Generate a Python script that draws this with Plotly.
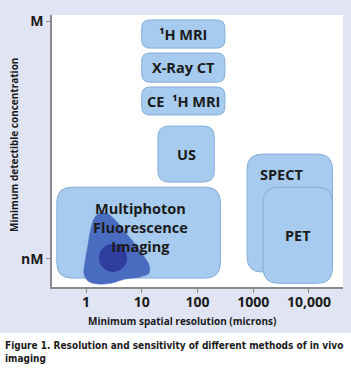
import numpy as np
import plotly.graph_objects as go

# ---------------- data ----------------
methods = ["¹H MRI", "X-Ray CT", "CE  ¹H MRI", "US",
           "Multiphoton<br>Fluorescence<br>Imaging", "SPECT", "PET"]
res_min_um = [10, 10, 10, 19.5, 0.30, 776, 1510]          # microns
res_max_um = [310, 310, 310, 200, 257, 26300, 26300]
conc_max_M = [1.1, 0.062, 0.0032, 1.07e-4, 5.2e-7, 9.3e-6, 5.2e-7]
conc_min_M = [0.095, 0.0049, 2.8e-4, 8.1e-7, 1.9e-10, 3.2e-10, 1.2e-10]
label_res_um = [None, None, None, None, 9.3, 3160, None]    # None -> centre of box
label_conc_M = [None, None, None, None, 1.6e-8, 1.6e-6, None]

# multiphoton "cell" blob outline (log10 microns, log10 molar)
blob_log_res = [0.269, 0.395, 0.521, 0.700, 0.880, 1.023, 1.131, 1.131, 0.969,
                0.700, 0.467, 0.215, 0.036, -0.036, -0.018, 0.036, 0.090, 0.162]
blob_log_conc = [-7.26, -7.30, -7.52, -7.98, -8.43, -8.85, -9.23, -9.53, -9.68,
                 -9.76, -9.91, -9.95, -9.83, -9.57, -9.11, -8.47, -7.83, -7.41]
nucleus_res_um = [3.05]
nucleus_conc_M = [1.1e-9]

x_tick_vals = [1, 10, 100, 1000, 10000]
x_tick_text = ["1", "10", "100", "1000", "10,000"]
y_tick_vals = [1e-9, 1.0]
y_tick_text = ["nM", "M"]

# ---------------- layout constants ----------------
W, H = 351, 370
ML, MR, MT, MB = 52, 8, 15, 83
XR = [-0.61, 4.61]
YR = [-10.06, 0.23]
px_per_x = (W - ML - MR) / (XR[1] - XR[0])
px_per_y = (H - MT - MB) / (YR[1] - YR[0])

BOX_FILL = "#a6cbee"
BOX_LINE = "#86add8"
radii_px = [8, 8, 8, 11, 15, 15, 15]
FONT = "Open Sans"
TXT = "#1b1b1b"


def rounded_path(x0, x1, y0, y1, r):
    rx, ry = r / px_per_x, r / px_per_y
    return (f"M {x0+rx},{y0} L {x1-rx},{y0} Q {x1},{y0} {x1},{y0+ry} "
            f"L {x1},{y1-ry} Q {x1},{y1} {x1-rx},{y1} L {x0+rx},{y1} "
            f"Q {x0},{y1} {x0},{y1-ry} L {x0},{y0+ry} Q {x0},{y0} {x0+rx},{y0} Z")


fig = go.Figure()
shapes = []
annotations = []

pw, ph = W - ML - MR, H - MT - MB


def px_x(p):
    return (p - ML) / pw


def px_y(p):
    return 1 - (p - MT) / ph


# white caption area
shapes.append(dict(type="rect", xref="paper", yref="paper", layer="below",
                   x0=px_x(0), x1=px_x(W), y0=px_y(H), y1=px_y(333),
                   fillcolor="white", line_width=0))

for i, m in enumerate(methods):
    x0, x1 = np.log10(res_min_um[i]), np.log10(res_max_um[i])
    y0, y1 = np.log10(conc_min_M[i]), np.log10(conc_max_M[i])
    shapes.append(dict(type="path", xref="x", yref="y", layer="below",
                       path=rounded_path(x0, x1, y0, y1, radii_px[i]),
                       fillcolor=BOX_FILL, line=dict(color=BOX_LINE, width=1)))
    lx = np.log10(label_res_um[i]) if label_res_um[i] else (x0 + x1) / 2
    ly = np.log10(label_conc_M[i]) if label_conc_M[i] else (y0 + y1) / 2
    annotations.append(dict(x=lx, y=ly, xref="x", yref="y", text=f"<b>{m}</b>",
                            showarrow=False, xanchor="center", yanchor="middle",
                            font=dict(family=FONT, size=14.5, color=TXT)))

# blob and nucleus
fig.add_trace(go.Scatter(x=blob_log_res + blob_log_res[:1],
                         y=blob_log_conc + blob_log_conc[:1],
                         mode="lines", line=dict(shape="spline", color="#4a6cc0", width=0.5),
                         fill="toself", fillcolor="#4a6cc0", hoverinfo="skip"))
fig.add_trace(go.Scatter(x=np.log10(nucleus_res_um), y=np.log10(nucleus_conc_M),
                         mode="markers",
                         marker=dict(size=28, color="#2f3d9f", line_width=0),
                         hoverinfo="skip"))

# axis titles and caption
annotations.append(dict(xref="paper", yref="paper", x=px_x(182), y=px_y(321),
                        xanchor="center", yanchor="middle", showarrow=False,
                        text="<b>Minimum spatial resolution (microns)</b>",
                        font=dict(family=FONT, size=10, color=TXT)))
annotations.append(dict(xref="paper", yref="paper", x=px_x(14), y=px_y(145),
                        xanchor="center", yanchor="middle", showarrow=False,
                        textangle=-90,
                        text="<b>Minimum detectible concentration</b>",
                        font=dict(family=FONT, size=10, color=TXT)))
annotations.append(dict(xref="paper", yref="paper", x=px_x(3), y=px_y(338),
                        xanchor="left", yanchor="top", align="left", showarrow=False,
                        text="<b>Figure 1. Resolution and sensitivity of different methods of in vivo<br>imaging</b>",
                        font=dict(family="DejaVu Sans Condensed", size=10, color=TXT)))

fig.update_layout(
    width=W, height=H, margin=dict(l=ML, r=MR, t=MT, b=MB),
    paper_bgcolor="#e1e4f3", plot_bgcolor="white", showlegend=False,
    shapes=shapes, annotations=annotations,
    xaxis=dict(range=XR, tickvals=np.log10(x_tick_vals), ticktext=x_tick_text,
               showgrid=False, zeroline=False, showline=True, linecolor="#8a8a8a",
               linewidth=1.5, ticks="outside", ticklen=4, tickcolor="#8a8a8a",
               ticklabelstandoff=-3,
               tickfont=dict(family=FONT, size=14, color=TXT, weight="bold"),
               fixedrange=True),
    yaxis=dict(range=YR, tickvals=np.log10(y_tick_vals), ticktext=y_tick_text,
               showgrid=False, zeroline=False, showline=True, linecolor="#8a8a8a",
               linewidth=1.5, ticks="outside", ticklen=4, tickcolor="#8a8a8a",
               tickfont=dict(family=FONT, size=14, color=TXT, weight="bold"),
               fixedrange=True),
)

fig.write_html("out.html", config={"displayModeBar": False})
